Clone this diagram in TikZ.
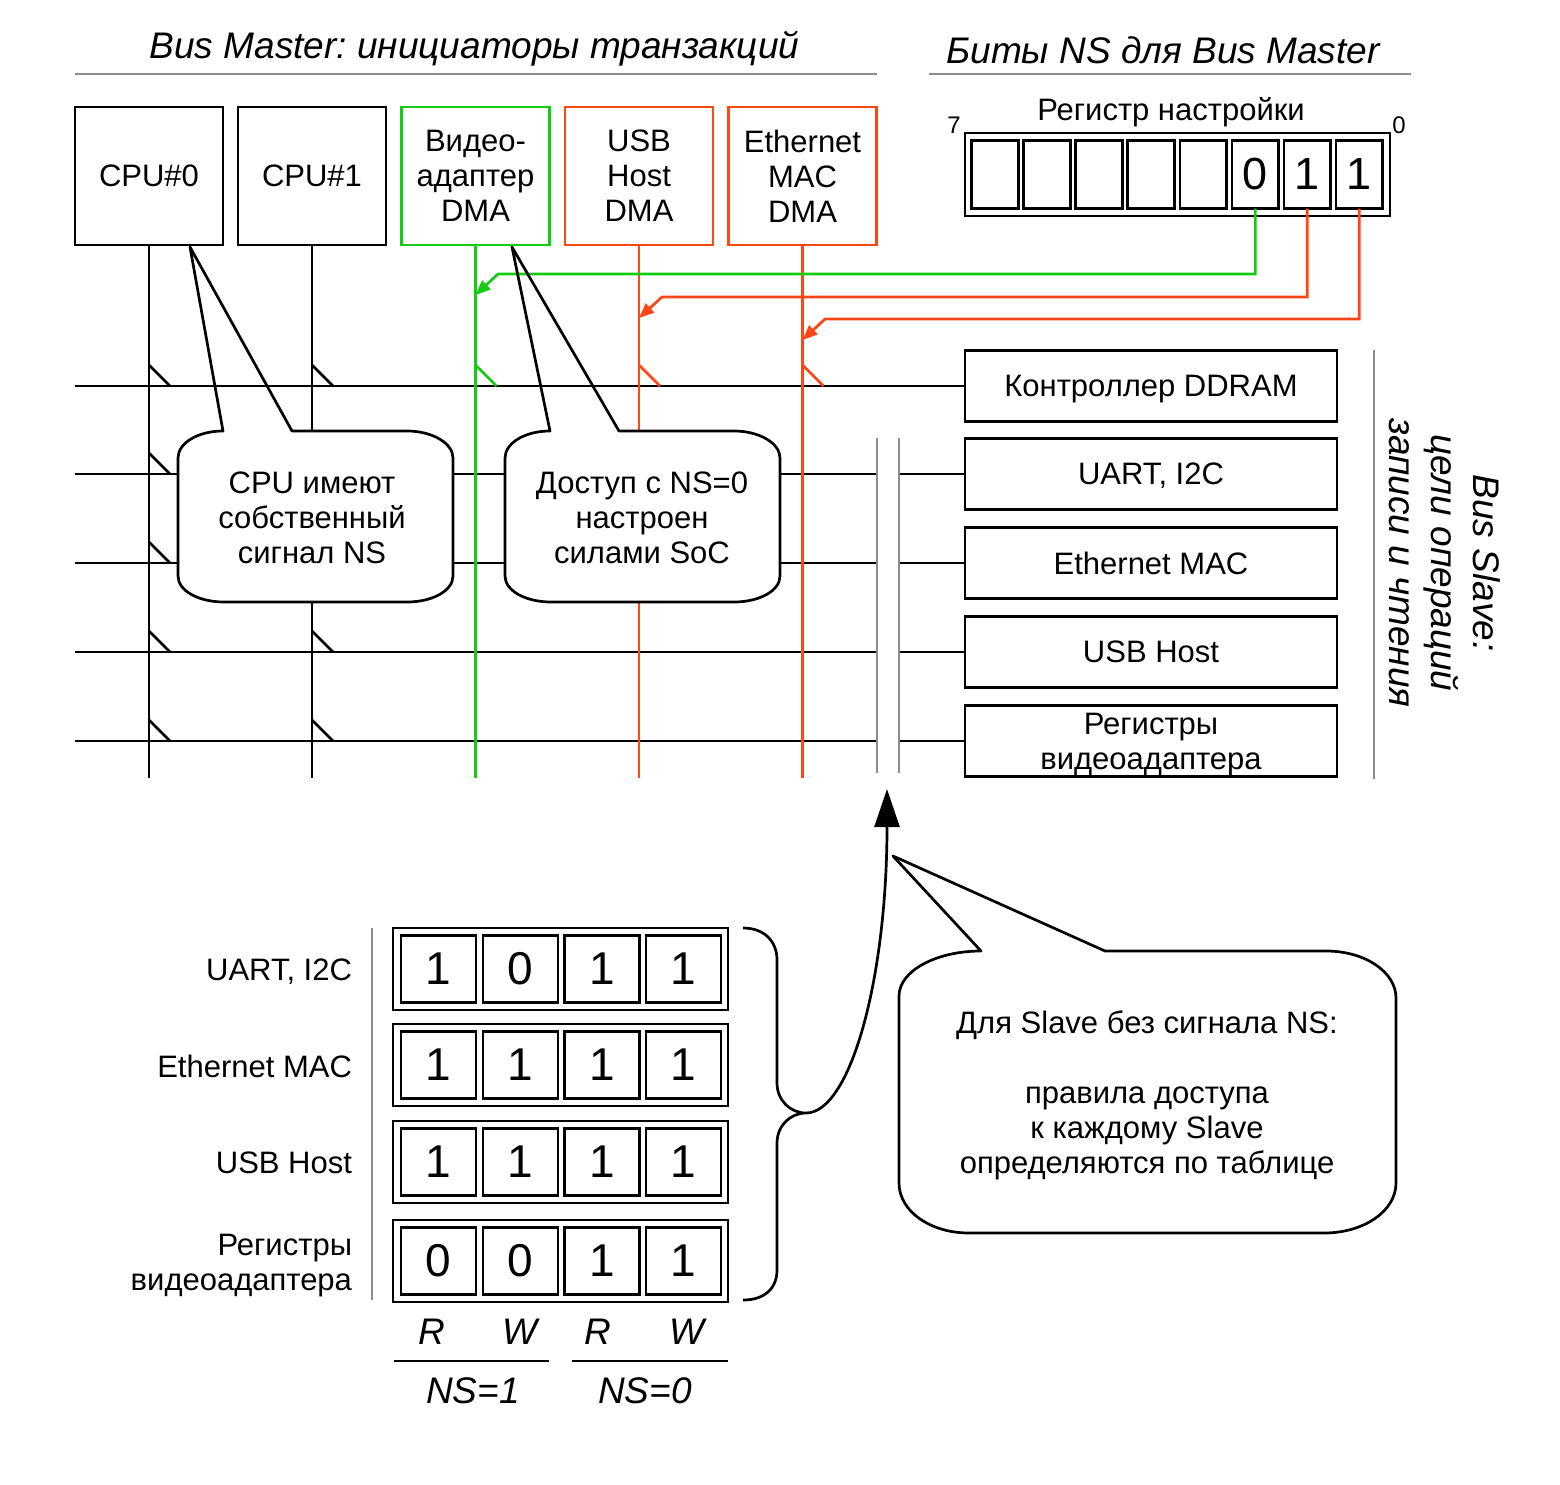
\documentclass[tikz,border=0pt]{standalone}
\usepackage{fontspec}
\setmainfont{Liberation Sans}
\usetikzlibrary{arrows.meta}
\definecolor{cgreen}{RGB}{20,204,20}
\definecolor{corange}{RGB}{255,70,20}
\definecolor{cgrey}{RGB}{140,140,140}
\begin{document}
\frenchspacing
\begin{tikzpicture}[x=1pt,y=-1pt,
  every node/.style={font=\fontsize{31}{35}\selectfont, inner sep=0pt, outer sep=0pt},
  wline/.style={line width=2.7pt},
  greyln/.style={draw=cgrey, line width=1.5pt},
  mbox/.style={draw, line width=2.7pt, minimum width=148pt, minimum height=138pt, align=center},
  sbox/.style={draw, line width=2.7pt, minimum width=372pt, minimum height=71pt, align=center, text depth=0pt},
  lbl/.style={text depth=0pt},
  rcell/.style={draw, line width=2.7pt, minimum width=46.6pt, minimum height=68pt, font=\fontsize{45}{50}\selectfont},
  tcell/.style={draw, line width=2.7pt, minimum width=75pt, minimum height=67pt, font=\fontsize{46}{50}\selectfont},
  tbox/.style={draw, line width=2.7pt, minimum width=335pt, minimum height=82pt},
  ital/.style={font=\fontsize{37}{42}\selectfont\itshape},
  ntip/.style={-{Triangle[length=15pt,width=12pt]}},
]
\useasboundingbox (0,0) rectangle (1560,1485);

% ---------- headers ----------
\node[ital, anchor=base] (h1) at (474.5,59) {Bus Master: инициаторы транзакций};
\coordinate (h1a) at (75,74); \coordinate (h1b) at (877,74);
\draw[greyln] (h1a) -- (h1b);
\node[ital, anchor=base] (h2) at (1163,64) {Биты NS для Bus Master};
\coordinate (h2a) at (929,74); \coordinate (h2b) at (1411,74);
\draw[greyln] (h2a) -- (h2b);

% ---------- masters ----------
\node[mbox] (m0) at (149,176) {CPU\#0};
\node[mbox] (m1) at (312,176) {CPU\#1};
\node[mbox, draw=cgreen] (m2) at (475.5,176) {Видео-\\адаптер\\DMA};
\node[mbox, draw=corange] (m3) at (639,176) {USB\\Host\\DMA};
\node[mbox, draw=corange] (m4) at (802.5,176) {Ethernet\\MAC\\DMA};

\coordinate (e0) at (149,778);
\coordinate (e1) at (312,778);
\coordinate (e2) at (475.5,778);
\coordinate (e3) at (639,778);
\coordinate (e4) at (802.5,778);

% ---------- slaves ----------
\node[sbox] (s1) at (1151,386) {Контроллер DDRAM};
\node[sbox] (s2) at (1151,474) {UART, I2C};
\node[sbox] (s3) at (1151,563) {Ethernet MAC};
\node[sbox] (s4) at (1151,652) {USB Host};
\node[sbox] (s5) at (1151,741) {Регистры\\видеоадаптера};

% bus rows
\coordinate (r1L) at (75,386);
\draw[wline] (r1L) -- (s1.west);
\foreach \yy/\k in {474/2,563/3,652/4,741/5}{
  \coordinate (rL\k) at (75,\yy);
  \coordinate (rA\k) at (877,\yy);
  \coordinate (rB\k) at (899,\yy);
  \draw[wline] (rL\k) -- (rA\k);
  \draw[wline] (rB\k) -- (s\k.west);
}

% master verticals
\draw[wline] (m0) -- (e0);
\draw[wline] (m1) -- (e1);
\draw[wline, cgreen] (m2) -- (e2);
\draw[wline, corange] (m3) -- (e3);
\draw[wline, corange] (m4) -- (e4);

% connection ticks
\foreach \yy in {386,474,563,652,741}{
  \draw[wline] (149,\yy-21) -- (170,\yy);
  \draw[wline] (312,\yy-21) -- (333,\yy);
}
\draw[wline, cgreen] (475.5,365) -- (496.5,386);
\draw[wline, corange] (639,365) -- (660,386);
\draw[wline, corange] (802.5,365) -- (823.5,386);

% grey separators
\coordinate (ga1) at (877,438); \coordinate (ga2) at (877,773);
\coordinate (gb1) at (899,438); \coordinate (gb2) at (899,773);
\draw[greyln] (ga1) -- (ga2);
\draw[greyln] (gb1) -- (gb2);
\coordinate (gc1) at (1374,350); \coordinate (gc2) at (1374,779);
\draw[greyln] (gc1) -- (gc2);

\node[ital, rotate=-90, align=center] (bs) at (1445,563) {Bus Slave:\\цели операций\\записи и чтения};

% ---------- register ----------
\node[anchor=base] (regt) at (1171,121) {Регистр настройки};
\node[font=\fontsize{24}{28}\selectfont, anchor=base] (b7) at (954,133) {7};
\node[font=\fontsize{24}{28}\selectfont, anchor=base] (b0) at (1399,133) {0};
\node[draw, line width=2.7pt, minimum width=425pt, minimum height=83pt] (reg) at (1177.5,174.5) {};
\foreach \i/\v in {0/,1/,2/,3/,4/,5/0,6/1,7/1}{
  \node[rcell] (c\i) at ({995+52.04*\i},174.5) {\v};
}

% register -> masters
\coordinate (g1) at (1255.2,274); \coordinate (g2) at (498,274); \coordinate (g3) at (475.5,295);
\draw[wline, cgreen, ntip] (c5.south) -- (g1) -- (g2) -- (g3);
\coordinate (o1) at (1307.2,297); \coordinate (o2) at (662,297); \coordinate (o3) at (639,318);
\draw[wline, corange, ntip] (c6.south) -- (o1) -- (o2) -- (o3);
\coordinate (q1) at (1359.3,319); \coordinate (q2) at (825,319); \coordinate (q3) at (802.5,340);
\draw[wline, corange, ntip] (c7.south) -- (q1) -- (q2) -- (q3);

% ---------- callouts ----------
\fill[white] (223,431) -- (407,431) .. controls (432,431) and (453,443) .. (453,458) -- (453,576) .. controls (453,591) and (432,602) .. (407,602) -- (224,602) .. controls (199,602) and (178,591) .. (178,576) -- (178,458) .. controls (178,443) and (198,431) .. (223,431) -- cycle;
\draw[wline, line join=round] (292,431) -- (407,431) .. controls (432,431) and (453,443) .. (453,458) -- (453,576) .. controls (453,591) and (432,602) .. (407,602) -- (224,602) .. controls (199,602) and (178,591) .. (178,576) -- (178,458) .. controls (178,443) and (198,431) .. (223,431) -- (190,247) -- cycle;
\node[align=center] (t1) at (312,518) {CPU имеют\\собственный\\сигнал NS};

\fill[white] (550,431) -- (734,431) .. controls (759,431) and (780,443) .. (780,458) -- (780,576) .. controls (780,591) and (759,602) .. (734,602) -- (551,602) .. controls (526,602) and (505,591) .. (505,576) -- (505,458) .. controls (505,443) and (525,431) .. (550,431) -- cycle;
\draw[wline, line join=round] (619,431) -- (734,431) .. controls (759,431) and (780,443) .. (780,458) -- (780,576) .. controls (780,591) and (759,602) .. (734,602) -- (551,602) .. controls (526,602) and (505,591) .. (505,576) -- (505,458) .. controls (505,443) and (525,431) .. (550,431) -- (512,247) -- cycle;
\node[align=center] (t2) at (642,518) {Доступ с NS=0\\настроен\\силами SoC};

\fill[white] (981,951) -- (1326,951) .. controls (1365,951) and (1396,972) .. (1396,998) -- (1396,1183) .. controls (1396,1211) and (1364,1233) .. (1324,1233) -- (969,1233) .. controls (930,1233) and (899,1211) .. (899,1183) -- (899,996) .. controls (899,971) and (936,951) .. (981,951) -- cycle;
\draw[wline, line join=round] (1105,951) -- (1326,951) .. controls (1365,951) and (1396,972) .. (1396,998) -- (1396,1183) .. controls (1396,1211) and (1364,1233) .. (1324,1233) -- (969,1233) .. controls (930,1233) and (899,1211) .. (899,1183) -- (899,996) .. controls (899,971) and (936,951) .. (981,951) -- (893,856) -- cycle;
\node[align=center] (t3) at (1147,1095) {Для Slave без сигнала NS:\\[35pt]правила доступа\\к каждому Slave\\определяются по таблице};

% ---------- table ----------
\foreach \yy/\a/\b/\c/\d [count=\r] in {969/1/0/1/1, 1065/1/1/1/1, 1162/1/1/1/1, 1261/0/0/1/1}{
  \node[tbox] (tr\r) at (560.5,\yy) {};
  \node[tcell] (ta\r) at (438.5,\yy) {\a};
  \node[tcell] (tb\r) at (520.5,\yy) {\b};
  \node[tcell] (tc\r) at (602,\yy) {\c};
  \node[tcell] (td\r) at (683.5,\yy) {\d};
}
\node[lbl, anchor=east] (l1) at (352,970) {UART, I2C};
\node[lbl, anchor=east] (l2) at (352,1066) {Ethernet MAC};
\node[lbl, anchor=east] (l3) at (352,1163) {USB Host};
\node[lbl, anchor=east, align=right] (l4) at (352,1262) {Регистры\\видеоадаптера};
\coordinate (tg1) at (372,928); \coordinate (tg2) at (372,1300);
\draw[greyln] (tg1) -- (tg2);

\node[ital] (cR1) at (432,1332) {R};
\node[ital] (cW1) at (520,1332) {W};
\node[ital] (cR2) at (598,1332) {R};
\node[ital] (cW2) at (687,1332) {W};
\coordinate (u1a) at (394,1361); \coordinate (u1b) at (549,1361);
\coordinate (u2a) at (572,1361); \coordinate (u2b) at (728,1361);
\draw[wline] (u1a) -- (u1b);
\draw[wline] (u2a) -- (u2b);
\node[ital] (ns1) at (473,1391) {NS=1};
\node[ital] (ns0) at (645,1391) {NS=0};

% brace
\coordinate (brt) at (743,928);
\coordinate (brtip) at (806,1113);
\coordinate (brb) at (743,1300);
\draw[wline] (brt) .. controls (765,928) and (777,942) .. (777,960) -- (777,1083) .. controls (777,1100) and (790,1113) .. (brtip) .. controls (790,1113) and (777,1126) .. (777,1143) -- (777,1270) .. controls (777,1288) and (765,1300) .. (brb);

% big arrow to the slave bus
\coordinate (atip) at (887,789);
\draw[wline, -{Triangle[length=38pt,width=25pt]}] (brtip) .. controls (850,1113) and (887,980) .. (atip);
\end{tikzpicture}
\end{document}
